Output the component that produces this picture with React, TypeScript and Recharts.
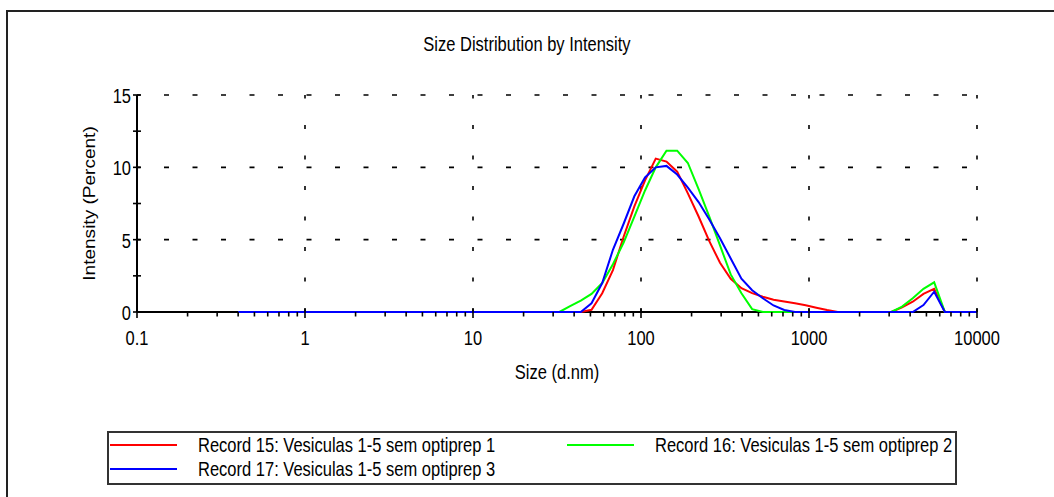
import { LineChart, Line, XAxis, YAxis, ReferenceLine, Legend, Label } from 'recharts';

// Malvern size bins (d.nm)
const sizes = [
  0.4, 0.4632, 0.5365, 0.6213, 0.7195, 0.8332, 0.9649, 1.117, 1.294, 1.499,
  1.736, 2.01, 2.328, 2.696, 3.122, 3.615, 4.187, 4.849, 5.615, 6.503,
  7.531, 8.721, 10.1, 11.7, 13.54, 15.69, 18.17, 21.04, 24.36, 28.21,
  32.67, 37.84, 43.82, 50.75, 58.77, 68.06, 78.82, 91.28, 105.7, 122.4,
  141.8, 164.2, 190.1, 220.2, 255, 295.3, 342, 396.1, 458.7, 531.2,
  615.1, 712.4, 825, 955.4, 1106, 1281, 1484, 1718, 1990, 2305,
  2669, 3091, 3580, 4145, 4801, 5560, 6439, 7456, 8635, 10000,
];

const record15 = [
  0, 0, 0, 0, 0, 0, 0, 0, 0, 0,
  0, 0, 0, 0, 0, 0, 0, 0, 0, 0,
  0, 0, 0, 0, 0, 0, 0, 0, 0, 0,
  0, 0, 0, 0.15, 1.3, 2.9, 5.2, 7.3, 9.1, 10.6,
  10.4, 9.7, 8.2, 6.6, 4.9, 3.4, 2.3, 1.65, 1.3, 1.05,
  0.85, 0.72, 0.6, 0.47, 0.3, 0.14, 0, 0, 0, 0,
  0, 0, 0.32, 0.71, 1.25, 1.6, 0, 0, 0, 0,
];

const record16 = [
  0, 0, 0, 0, 0, 0, 0, 0, 0, 0,
  0, 0, 0, 0, 0, 0, 0, 0, 0, 0,
  0, 0, 0, 0, 0, 0, 0, 0, 0, 0,
  0, 0.4, 0.78, 1.25, 2.0, 3.3, 4.8, 6.6, 8.4, 10.0,
  11.15, 11.15, 10.3, 8.5, 6.6, 4.6, 2.6, 1.3, 0.2, 0,
  0, 0, 0, 0, 0, 0, 0, 0, 0, 0,
  0, 0, 0.37, 0.95, 1.6, 2.05, 0, 0, 0, 0,
];

const record17 = [
  0, 0, 0, 0, 0, 0, 0, 0, 0, 0,
  0, 0, 0, 0, 0, 0, 0, 0, 0, 0,
  0, 0, 0, 0, 0, 0, 0, 0, 0, 0,
  0, 0, 0, 0.6, 2.0, 4.3, 6.1, 8.0, 9.3, 10.0,
  10.1, 9.5, 8.6, 7.6, 6.4, 5.1, 3.7, 2.3, 1.5, 0.95,
  0.45, 0.14, 0, 0, 0, 0, 0, 0, 0, 0,
  0, 0, 0, 0, 0.48, 1.4, 0, 0, 0, 0,
];

const xTicks = [
  0.1, 0.2, 0.3, 0.4, 0.5, 0.6, 0.7, 0.8, 0.9,
  1, 2, 3, 4, 5, 6, 7, 8, 9,
  10, 20, 30, 40, 50, 60, 70, 80, 90,
  100, 200, 300, 400, 500, 600, 700, 800, 900,
  1000, 2000, 3000, 4000, 5000, 6000, 7000, 8000, 9000,
  10000,
];
const xLabels = [0.1, 1, 10, 100, 1000, 10000];
const yTicks = [0, 2.5, 5, 7.5, 10, 12.5, 15];
const yLabels = [0, 5, 10, 15];
const xGrid = [1, 10, 100, 1000, 10000];
const yGrid = [5, 10, 15];

const series = [
  { key: 'r15', name: 'Record 15: Vesiculas 1-5 sem optiprep 1', color: '#ff0000' },
  { key: 'r16', name: 'Record 16: Vesiculas 1-5 sem optiprep 2', color: '#00ff00' },
  { key: 'r17', name: 'Record 17: Vesiculas 1-5 sem optiprep 3', color: '#0000ff' },
];

const data = sizes.map((size, i) => ({
  size,
  r15: record15[i],
  r16: record16[i],
  r17: record17[i],
}));

const FONT = '"Liberation Sans", Arial, sans-serif';
const STRETCH = 1.19; // text in the original is taller than it is wide

const renderXTick = (p: any) => {
  const { x, y, payload } = p;
  const major = xLabels.includes(payload.value);
  return (
    <g>
      <line x1={x} x2={x} y1={major ? y - 3 : y} y2={major ? y + 6 : y + 4.5} stroke='#000' strokeWidth={1.6} />
      {major && (
        <text
          transform={`translate(${x},${y + 33}) scale(1,${STRETCH})`}
          textAnchor='middle'
          fontSize={16.5}
          fontFamily={FONT}
          fill='#000'
        >
          {String(payload.value)}
        </text>
      )}
    </g>
  );
};

const renderYTick = (p: any) => {
  const { x, y, payload } = p;
  const labelled = yLabels.includes(payload.value);
  return (
    <g>
      <line x1={x - 4} x2={x + 4} y1={y} y2={y} stroke='#000' strokeWidth={1.6} />
      {labelled && (
        <text
          transform={`translate(${x - 6},${y + 8}) scale(1,${STRETCH})`}
          textAnchor='end'
          fontSize={16.5}
          fontFamily={FONT}
          fill='#000'
        >
          {String(payload.value)}
        </text>
      )}
    </g>
  );
};

const renderLegend = () => (
  <div
    style={{
      position: 'relative',
      width: 850,
      height: 54,
      boxSizing: 'border-box',
      border: '2px solid #333',
      background: '#fff',
      fontFamily: FONT,
    }}
  >
    {series.map((s, i) => {
      const left = i % 2 === 0 ? 1 : 458;
      const top = i < 2 ? 12 : 36;
      return (
        <div key={s.key}>
          <div style={{ position: 'absolute', left, top: top - 1, width: 67, height: 2, background: s.color }} />
          <span
            style={{
              position: 'absolute',
              left: left + 88,
              top: top - 10,
              fontSize: 16.5,
              lineHeight: '20px',
              whiteSpace: 'nowrap',
              color: '#000',
              transform: `scaleY(${STRETCH})`,
            }}
          >
            {s.name}
          </span>
        </div>
      );
    })}
  </div>
);

export default function App() {
  return (
    <div
      style={{
        position: 'absolute',
        left: 0,
        top: 0,
        width: 1054,
        height: 497,
        overflow: 'hidden',
        background: '#fff',
        fontFamily: FONT,
      }}
    >
      <div
        style={{
          position: 'absolute',
          left: 6,
          top: 10,
          width: 1100,
          height: 600,
          borderTop: '2px solid #222',
          borderLeft: '2px solid #222',
        }}
      />
      <div
        style={{
          position: 'absolute',
          left: 0,
          top: 34,
          width: 1054,
          textAlign: 'center',
          fontSize: 16.5,
          lineHeight: '20px',
          color: '#000',
          transform: `scaleY(${STRETCH})`,
        }}
      >
        Size Distribution by Intensity
      </div>
      <div style={{ position: 'absolute', left: 0, top: 0 }}>
        <LineChart width={1054} height={497} data={data} margin={{ top: 95, right: 77, bottom: 155, left: 77 }}>
          {xGrid.map((v) => (
            <ReferenceLine key={`gx${v}`} x={v} stroke='#000' strokeWidth={1.6} strokeDasharray='4 26.5' />
          ))}
          {yGrid.map((v) => (
            <ReferenceLine
              key={`gy${v}`}
              y={v}
              stroke='#000'
              strokeWidth={1.6}
              strokeDasharray='5 23.5'
              strokeDashoffset={1.5}
            />
          ))}
          <XAxis
            dataKey='size'
            type='number'
            scale='log'
            domain={[0.1, 10000]}
            ticks={xTicks}
            allowDataOverflow
            height={30}
            tickSize={0}
            tickMargin={0}
            tickLine={false}
            axisLine={{ stroke: '#000', strokeWidth: 2 }}
            tick={renderXTick}
            interval={0}
            zIndex={300}
          >
            <Label
              content={(p: any) => {
                const vb = p.viewBox;
                return (
                  <text
                    transform={`translate(${vb.x + vb.width / 2},${vb.y + 67}) scale(1,${STRETCH})`}
                    textAnchor='middle'
                    fontSize={16.5}
                    fontFamily={FONT}
                    fill='#000'
                  >
                    Size (d.nm)
                  </text>
                );
              }}
            />
          </XAxis>
          <YAxis
            type='number'
            domain={[0, 15]}
            ticks={yTicks}
            width={60}
            tickSize={0}
            tickMargin={0}
            tickLine={false}
            axisLine={{ stroke: '#000', strokeWidth: 2 }}
            tick={renderYTick}
            interval={0}
          >
            <Label
              content={(p: any) => {
                const vb = p.viewBox;
                return (
                  <text
                    transform={`translate(${vb.x + 18},${vb.y + vb.height / 2}) rotate(-90) scale(${STRETCH},1)`}
                    textAnchor='middle'
                    fontSize={16}
                    fontFamily={FONT}
                    fill='#000'
                  >
                    Intensity (Percent)
                  </text>
                );
              }}
            />
          </YAxis>
          {series.map((s) => (
            <Line
              key={s.key}
              type='linear'
              dataKey={s.key}
              name={s.name}
              stroke={s.color}
              strokeWidth={2}
              dot={false}
              activeDot={false}
              isAnimationActive={false}
            />
          ))}
          <Legend
            layout='vertical'
            align='center'
            verticalAlign='middle'
            wrapperStyle={{ left: 107, top: 431, width: 850, height: 54 }}
            content={renderLegend}
          />
        </LineChart>
      </div>
    </div>
  );
}
